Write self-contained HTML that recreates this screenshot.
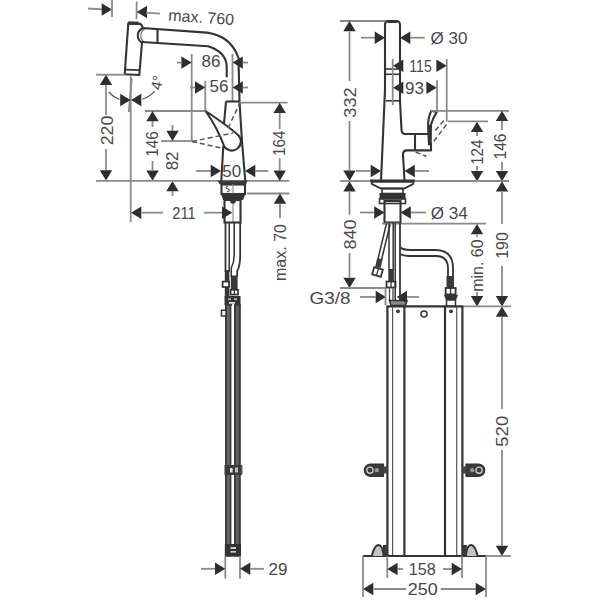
<!DOCTYPE html>
<html><head><meta charset="utf-8"><style>
html,body{margin:0;padding:0;background:#fff;width:600px;height:600px;overflow:hidden}
svg{display:block}
text{font-family:"Liberation Sans",sans-serif;fill:#484848}
</style></head><body>
<svg width="600" height="600" viewBox="0 0 600 600">
<rect width="600" height="600" fill="#fff"/>
<line x1="88" y1="8.5" x2="103" y2="9.3" stroke="#8a8a8a" stroke-width="1.8"/>
<polygon points="112,9.5 101.7,3.3 101.7,15.7" fill="#2e2e2e" stroke="none" stroke-width="0"/>
<line x1="112" y1="0" x2="112" y2="17" stroke="#8a8a8a" stroke-width="1.8"/>
<line x1="136.7" y1="1.5" x2="136.5" y2="19" stroke="#8a8a8a" stroke-width="1.8"/>
<polygon points="136.7,12 147.0,5.8 147.0,18.2" fill="#2e2e2e" stroke="none" stroke-width="0"/>
<line x1="146" y1="12.6" x2="160" y2="13.6" stroke="#8a8a8a" stroke-width="1.8"/>
<text x="168" y="20.5" font-size="16" text-anchor="start" transform="rotate(4 168 20.5)" >max. 760</text>
<path d="M142,42.5 L139.3,75 L124.7,74.3 L128.3,23.2 L138.5,23.6 Q142.6,24 142.5,28.5" stroke="#333" stroke-width="2.1" fill="none" stroke-linejoin="round" />
<line x1="128.4" y1="23" x2="138.6" y2="23.4" stroke="#333" stroke-width="3.4"/>
<line x1="125.1" y1="69.6" x2="139.6" y2="70.2" stroke="#333" stroke-width="1.8"/>
<path d="M142.5,28.5 C136.3,31 136.3,39.5 142,42.5" stroke="#333" stroke-width="2.0" fill="none" stroke-linejoin="round" />
<path d="M144.6,29.3 C139.6,32 139.6,39 144.2,41.8" stroke="#666" stroke-width="1.1" fill="none" stroke-linejoin="round" />
<path d="M142,28 L207,32.6 Q231,36 238.5,58 L239.5,101.5" stroke="#333" stroke-width="2.1" fill="none" stroke-linejoin="round" />
<path d="M141.5,42 L208,46.3 Q226,52 226.7,66 L226.7,77.2" stroke="#333" stroke-width="2.1" fill="none" stroke-linejoin="round" />
<line x1="157.5" y1="29" x2="157.5" y2="43" stroke="#333" stroke-width="2.1"/>
<line x1="191.7" y1="54" x2="191.7" y2="141" stroke="#8a8a8a" stroke-width="1.8"/>
<polygon points="191.7,62.6 181.39999999999998,56.4 181.39999999999998,68.8" fill="#2e2e2e" stroke="none" stroke-width="0"/>
<line x1="177" y1="62.6" x2="182" y2="62.6" stroke="#8a8a8a" stroke-width="1.8"/>
<line x1="232.5" y1="54" x2="232.5" y2="101.5" stroke="#8a8a8a" stroke-width="1.8"/>
<polygon points="232.5,62.6 242.8,56.4 242.8,68.8" fill="#2e2e2e" stroke="none" stroke-width="0"/>
<line x1="243" y1="62.6" x2="248" y2="62.6" stroke="#8a8a8a" stroke-width="1.8"/>
<text x="211" y="67.3" font-size="17" text-anchor="middle" >86</text>
<line x1="205.3" y1="81" x2="205.3" y2="111" stroke="#8a8a8a" stroke-width="1.8"/>
<polygon points="205.3,87.5 195.0,81.3 195.0,93.7" fill="#2e2e2e" stroke="none" stroke-width="0"/>
<line x1="190" y1="87.5" x2="195" y2="87.5" stroke="#8a8a8a" stroke-width="1.8"/>
<polygon points="232.5,87.5 242.8,81.3 242.8,93.7" fill="#2e2e2e" stroke="none" stroke-width="0"/>
<line x1="243" y1="87.5" x2="248" y2="87.5" stroke="#8a8a8a" stroke-width="1.8"/>
<text x="219" y="91.8" font-size="17" text-anchor="middle" >56</text>
<path d="M226,101.5 L239.5,101.5" stroke="#333" stroke-width="2.1" fill="none" stroke-linejoin="round" />
<path d="M226,101.5 L224,124" stroke="#333" stroke-width="2.1" fill="none" stroke-linejoin="round" />
<path d="M239.5,101.5 L242,141.7 L245.3,181" stroke="#333" stroke-width="2.1" fill="none" stroke-linejoin="round" />
<path d="M223.3,145.7 L221.3,181" stroke="#333" stroke-width="2.1" fill="none" stroke-linejoin="round" />
<line x1="239.5" y1="102.7" x2="287.6" y2="102.7" stroke="#8a8a8a" stroke-width="1.8"/>
<path d="M205.5,111 C216,118 231,128 239,136 A8.5,8.5 0 1 1 224.5,147 C220,135 212,120 205.5,111 Z" stroke="#333" stroke-width="2.1" fill="#fff" stroke-linejoin="round" />
<path d="M192,141.5 L233,133" stroke="#555" stroke-width="1.5" fill="none" stroke-linejoin="round" stroke-dasharray="5 3"/>
<path d="M192,141.5 L221,148" stroke="#555" stroke-width="1.5" fill="none" stroke-linejoin="round" stroke-dasharray="5 3"/>
<path d="M228,128 L240,103" stroke="#555" stroke-width="1.5" fill="none" stroke-linejoin="round" stroke-dasharray="5 3"/>
<line x1="96" y1="74.7" x2="125" y2="74.7" stroke="#8a8a8a" stroke-width="1.8"/>
<polygon points="106,74.7 99.8,85.0 112.2,85.0" fill="#2e2e2e" stroke="none" stroke-width="0"/>
<line x1="106" y1="85" x2="106" y2="115" stroke="#8a8a8a" stroke-width="1.8"/>
<text transform="translate(107 130.5) rotate(-90)" x="0" y="6.12" font-size="17" text-anchor="middle" textLength="29.5" lengthAdjust="spacingAndGlyphs" >220</text>
<line x1="106" y1="149" x2="106" y2="170" stroke="#8a8a8a" stroke-width="1.8"/>
<polygon points="106,180.5 99.8,170.2 112.2,170.2" fill="#2e2e2e" stroke="none" stroke-width="0"/>
<line x1="130.7" y1="75" x2="130.7" y2="222" stroke="#8a8a8a" stroke-width="1.8"/>
<line x1="131.8" y1="78" x2="128.8" y2="112" stroke="#8a8a8a" stroke-width="1.8"/>
<polygon points="130.5,100 120.2,93.8 120.2,106.2" fill="#2e2e2e" stroke="none" stroke-width="0"/>
<polygon points="131,100 141.3,93.8 141.3,106.2" fill="#2e2e2e" stroke="none" stroke-width="0"/>
<path d="M108.7,92 Q113,97 119.5,99.5" stroke="#555" stroke-width="1.2" fill="none" stroke-linejoin="round" />
<path d="M142.5,99 Q150,96.5 154.7,91.3" stroke="#555" stroke-width="1.2" fill="none" stroke-linejoin="round" />
<text x="162.2" y="83.8" font-size="15" text-anchor="middle" transform="rotate(-78 162.2 83.8)" >4°</text>
<line x1="145" y1="111" x2="205.3" y2="111" stroke="#8a8a8a" stroke-width="1.8"/>
<polygon points="152.5,111 146.3,121.3 158.7,121.3" fill="#2e2e2e" stroke="none" stroke-width="0"/>
<line x1="152.5" y1="121" x2="152.5" y2="127" stroke="#8a8a8a" stroke-width="1.8"/>
<text transform="translate(151.6 144) rotate(-90)" x="0" y="6.12" font-size="17" text-anchor="middle" textLength="25.5" lengthAdjust="spacingAndGlyphs" >146</text>
<line x1="152.5" y1="161" x2="152.5" y2="170" stroke="#8a8a8a" stroke-width="1.8"/>
<polygon points="152.5,180.8 146.3,170.5 158.7,170.5" fill="#2e2e2e" stroke="none" stroke-width="0"/>
<line x1="161" y1="141" x2="192" y2="141" stroke="#8a8a8a" stroke-width="1.8"/>
<line x1="172.5" y1="125" x2="172.5" y2="131" stroke="#8a8a8a" stroke-width="1.8"/>
<polygon points="172.5,141 166.3,130.7 178.7,130.7" fill="#2e2e2e" stroke="none" stroke-width="0"/>
<text transform="translate(172.2 160.9) rotate(-90)" x="0" y="6.12" font-size="17" text-anchor="middle" >82</text>
<polygon points="172.5,181 166.3,191.3 178.7,191.3" fill="#2e2e2e" stroke="none" stroke-width="0"/>
<line x1="172.5" y1="191" x2="172.5" y2="196" stroke="#8a8a8a" stroke-width="1.8"/>
<line x1="96" y1="180.8" x2="218" y2="180.8" stroke="#8a8a8a" stroke-width="1.8"/>
<line x1="247.5" y1="180.9" x2="289.4" y2="180.9" stroke="#8a8a8a" stroke-width="1.8"/>
<line x1="196" y1="171" x2="211" y2="171" stroke="#8a8a8a" stroke-width="1.8"/>
<polygon points="221,171 210.7,164.8 210.7,177.2" fill="#2e2e2e" stroke="none" stroke-width="0"/>
<polygon points="245,171 255.3,164.8 255.3,177.2" fill="#2e2e2e" stroke="none" stroke-width="0"/>
<line x1="255" y1="171" x2="268.3" y2="171" stroke="#8a8a8a" stroke-width="1.8"/>
<text x="231.7" y="177.3" font-size="17" text-anchor="middle" >50</text>
<polygon points="217.5,180.2 248,180.2 246,184.3 219.5,184.3" fill="#3a3a3a" stroke="none" stroke-width="0"/>
<rect x="221.5" y="184.5" width="23.5" height="9.5" rx="0" stroke="#333" stroke-width="2.1" fill="none"/>
<line x1="233" y1="184" x2="233" y2="222" stroke="#888" stroke-width="1.1"/>
<polygon points="221,193.5 245.5,193.5 243,200 223,200" fill="#333" stroke="none" stroke-width="0"/>
<circle cx="233" cy="201" r="2.8" fill="#333"/>
<rect x="224.5" y="200" width="16" height="22.5" rx="0" stroke="#333" stroke-width="2.1" fill="none"/>
<line x1="247" y1="193.5" x2="289.4" y2="193.5" stroke="#8a8a8a" stroke-width="1.8"/>
<path d="M228,186 Q224,188 228,189 Q231,190 227,192" stroke="#555" stroke-width="1.1" fill="none" stroke-linejoin="round" />
<polygon points="279.7,102.7 273.5,113.0 285.9,113.0" fill="#2e2e2e" stroke="none" stroke-width="0"/>
<line x1="279.7" y1="113" x2="279.7" y2="129" stroke="#8a8a8a" stroke-width="1.8"/>
<text transform="translate(278.75 143.3) rotate(-90)" x="0" y="6.12" font-size="17" text-anchor="middle" textLength="25.5" lengthAdjust="spacingAndGlyphs" >164</text>
<line x1="279.7" y1="158.3" x2="279.7" y2="170.5" stroke="#8a8a8a" stroke-width="1.8"/>
<polygon points="279.7,180.9 273.5,170.6 285.9,170.6" fill="#2e2e2e" stroke="none" stroke-width="0"/>
<polygon points="280,193.5 273.8,203.8 286.2,203.8" fill="#2e2e2e" stroke="none" stroke-width="0"/>
<line x1="280" y1="204" x2="280" y2="218" stroke="#8a8a8a" stroke-width="1.8"/>
<text transform="translate(280.3 252.5) rotate(-90)" x="0" y="5.76" font-size="16" text-anchor="middle" >max. 70</text>
<polygon points="131,212.7 141.3,206.5 141.3,218.89999999999998" fill="#2e2e2e" stroke="none" stroke-width="0"/>
<line x1="141.5" y1="212.7" x2="163" y2="212.7" stroke="#8a8a8a" stroke-width="1.8"/>
<text x="184" y="218.7" font-size="17" text-anchor="middle" textLength="23.5" lengthAdjust="spacingAndGlyphs" >211</text>
<line x1="204" y1="212.7" x2="222" y2="212.7" stroke="#8a8a8a" stroke-width="1.8"/>
<polygon points="232.3,212.7 222.0,206.5 222.0,218.89999999999998" fill="#2e2e2e" stroke="none" stroke-width="0"/>
<path d="M225.5,222.5 L225.5,272" stroke="#333" stroke-width="1.8" fill="none" stroke-linejoin="round" />
<path d="M229.2,222.5 L229.2,272" stroke="#333" stroke-width="1.5" fill="none" stroke-linejoin="round" />
<path d="M234.2,222.5 L234.2,255 Q234.2,262 231.3,268 L231.3,277" stroke="#333" stroke-width="1.5" fill="none" stroke-linejoin="round" />
<path d="M240.2,222.5 L240.2,255 Q240.2,266 237.2,271 L237.2,277" stroke="#333" stroke-width="1.8" fill="none" stroke-linejoin="round" />
<rect x="224.8" y="270" width="4.6" height="27" rx="0" stroke="none" stroke-width="0" fill="#383838"/>
<rect x="230.8" y="275.5" width="6.8" height="15" rx="0" stroke="none" stroke-width="0" fill="#383838"/>
<rect x="222.6" y="281.6" width="6.4" height="5.4" rx="0" stroke="#333" stroke-width="1.7" fill="#fff"/>
<rect x="230.6" y="289.8" width="7.4" height="4.8" rx="0" stroke="#333" stroke-width="1.7" fill="#fff"/>
<line x1="234.3" y1="289.8" x2="234.3" y2="294.6" stroke="#333" stroke-width="1.2"/>
<rect x="224.5" y="296" width="16" height="9.5" rx="0" stroke="none" stroke-width="0" fill="#333"/>
<rect x="228" y="298.2" width="3" height="2" rx="0" stroke="none" stroke-width="0" fill="#aaa"/>
<rect x="234" y="298.2" width="3" height="2" rx="0" stroke="none" stroke-width="0" fill="#aaa"/>
<rect x="229" y="302" width="6" height="1.8" rx="0" stroke="none" stroke-width="0" fill="#ddd"/>
<rect x="225" y="304" width="6.4" height="252.5" rx="0" stroke="none" stroke-width="0" fill="#3c3c3c"/>
<rect x="234" y="304" width="6.8" height="252.5" rx="0" stroke="none" stroke-width="0" fill="#3a3a3a"/>
<rect x="226.8" y="306" width="3.0" height="238" rx="0" stroke="none" stroke-width="0" fill="#666"/>
<rect x="235.9" y="306" width="3.0" height="238" rx="0" stroke="none" stroke-width="0" fill="#606060"/>
<rect x="221.5" y="310.2" width="4.5" height="5.8" rx="0" stroke="#333" stroke-width="1.5" fill="#fff"/>
<rect x="224.5" y="465" width="17.5" height="10" rx="0" stroke="none" stroke-width="0" fill="#3a3a3a"/>
<rect x="241" y="466" width="1.6" height="8" rx="0" stroke="none" stroke-width="0" fill="#666"/>
<rect x="224.8" y="544" width="16.2" height="12.6" rx="0" stroke="none" stroke-width="0" fill="#333"/>
<rect x="232.2" y="304" width="1.8" height="161" rx="0" stroke="none" stroke-width="0" fill="#fff"/>
<rect x="232.2" y="475" width="1.8" height="69" rx="0" stroke="none" stroke-width="0" fill="#fff"/>
<rect x="230" y="468" width="2.6" height="4.5" rx="0" stroke="none" stroke-width="0" fill="#ddd"/>
<rect x="235" y="467.5" width="3" height="5" rx="0" stroke="none" stroke-width="0" fill="#bbb"/>
<rect x="230.5" y="547" width="5.5" height="2" rx="0" stroke="none" stroke-width="0" fill="#ccc"/>
<rect x="230.5" y="551" width="5.5" height="1.6" rx="0" stroke="none" stroke-width="0" fill="#ccc"/>
<line x1="225.3" y1="556" x2="225.3" y2="578.7" stroke="#8a8a8a" stroke-width="1.8"/>
<line x1="240" y1="556" x2="240" y2="578.7" stroke="#8a8a8a" stroke-width="1.8"/>
<line x1="201" y1="568.8" x2="215" y2="568.8" stroke="#8a8a8a" stroke-width="1.8"/>
<polygon points="225.3,568.8 215.0,562.5999999999999 215.0,575.0" fill="#2e2e2e" stroke="none" stroke-width="0"/>
<polygon points="240,568.8 250.3,562.5999999999999 250.3,575.0" fill="#2e2e2e" stroke="none" stroke-width="0"/>
<line x1="250.5" y1="568.8" x2="264" y2="568.8" stroke="#8a8a8a" stroke-width="1.8"/>
<text x="278" y="574.5" font-size="17" text-anchor="middle" >29</text>
<line x1="340" y1="21" x2="389" y2="21" stroke="#8a8a8a" stroke-width="1.8"/>
<polygon points="349.5,21 343.3,31.3 355.7,31.3" fill="#2e2e2e" stroke="none" stroke-width="0"/>
<line x1="349.5" y1="31.5" x2="349.5" y2="81" stroke="#8a8a8a" stroke-width="1.8"/>
<text transform="translate(350 102.5) rotate(-90)" x="0" y="6.12" font-size="17" text-anchor="middle" textLength="30.5" lengthAdjust="spacingAndGlyphs" >332</text>
<line x1="349.5" y1="121" x2="349.5" y2="170.5" stroke="#8a8a8a" stroke-width="1.8"/>
<polygon points="349.5,180.9 343.3,170.6 355.7,170.6" fill="#2e2e2e" stroke="none" stroke-width="0"/>
<path d="M385,90 L385,25 Q385,21 389,21 L396,21 Q400,21 400,25 L400,101" stroke="#333" stroke-width="2.1" fill="none" stroke-linejoin="round" />
<line x1="388" y1="21.5" x2="397" y2="21.5" stroke="#333" stroke-width="3"/>
<path d="M385,90 L381,181" stroke="#333" stroke-width="2.1" fill="none" stroke-linejoin="round" />
<line x1="385" y1="69" x2="400" y2="69" stroke="#333" stroke-width="1.6"/>
<line x1="385" y1="74.3" x2="400" y2="74.3" stroke="#333" stroke-width="1.6"/>
<line x1="386" y1="100.8" x2="399.5" y2="100.8" stroke="#333" stroke-width="1.6"/>
<line x1="361" y1="37.7" x2="375" y2="37.7" stroke="#8a8a8a" stroke-width="1.8"/>
<polygon points="385,37.7 374.7,31.500000000000004 374.7,43.900000000000006" fill="#2e2e2e" stroke="none" stroke-width="0"/>
<polygon points="400,37.7 410.3,31.500000000000004 410.3,43.900000000000006" fill="#2e2e2e" stroke="none" stroke-width="0"/>
<line x1="410" y1="37.7" x2="424.7" y2="37.7" stroke="#8a8a8a" stroke-width="1.8"/>
<text x="449" y="43.5" font-size="17" text-anchor="middle" >Ø 30</text>
<line x1="392.7" y1="59" x2="392.7" y2="105" stroke="#8a8a8a" stroke-width="1.8"/>
<line x1="446.7" y1="59" x2="446.7" y2="121.7" stroke="#8a8a8a" stroke-width="1.8"/>
<line x1="437" y1="80.3" x2="437" y2="110.8" stroke="#8a8a8a" stroke-width="1.8"/>
<polygon points="393,65.7 403.3,59.5 403.3,71.9" fill="#2e2e2e" stroke="none" stroke-width="0"/>
<text x="420.5" y="72" font-size="17" text-anchor="middle" textLength="22.5" lengthAdjust="spacingAndGlyphs" >115</text>
<polygon points="446.7,65.7 436.4,59.5 436.4,71.9" fill="#2e2e2e" stroke="none" stroke-width="0"/>
<polygon points="393,87.7 403.3,81.5 403.3,93.9" fill="#2e2e2e" stroke="none" stroke-width="0"/>
<text x="414.5" y="93.5" font-size="17" text-anchor="middle" >93</text>
<polygon points="436.7,87.7 426.4,81.5 426.4,93.9" fill="#2e2e2e" stroke="none" stroke-width="0"/>
<path d="M400,101 L401.5,130 Q401.7,134 405.5,134 L428,134" stroke="#333" stroke-width="2.1" fill="none" stroke-linejoin="round" />
<path d="M415,134 L415,150.4" stroke="#333" stroke-width="2.1" fill="none" stroke-linejoin="round" />
<path d="M407,150.4 L431,150.4 L431,143" stroke="#333" stroke-width="2.1" fill="none" stroke-linejoin="round" />
<path d="M407,150.4 Q403,150.4 403,154.5 L404.5,181" stroke="#333" stroke-width="2.1" fill="none" stroke-linejoin="round" />
<path d="M431.3,110.8 L436.7,112 Q433,118 430.9,125 L430.7,143.5 L429,144.4 L428.2,128 Q427.6,118 431.3,110.8 Z" stroke="#333" stroke-width="2.1" fill="#fff" stroke-linejoin="round" />
<line x1="429.3" y1="125" x2="429.5" y2="144" stroke="#333" stroke-width="2.8"/>
<path d="M443.75,120.6 L433.5,132.5" stroke="#555" stroke-width="1.5" fill="none" stroke-linejoin="round" stroke-dasharray="5 3"/>
<path d="M446.5,124.5 L432.4,143.3" stroke="#555" stroke-width="1.5" fill="none" stroke-linejoin="round" stroke-dasharray="5 3"/>
<path d="M415.6,152 L426.4,156.3" stroke="#555" stroke-width="1.5" fill="none" stroke-linejoin="round" stroke-dasharray="5 3"/>
<line x1="431" y1="110.8" x2="509" y2="110.8" stroke="#8a8a8a" stroke-width="1.8"/>
<line x1="448" y1="121.3" x2="488" y2="121.3" stroke="#8a8a8a" stroke-width="1.8"/>
<line x1="356" y1="171" x2="370.5" y2="171" stroke="#8a8a8a" stroke-width="1.8"/>
<polygon points="381,171 370.7,164.8 370.7,177.2" fill="#2e2e2e" stroke="none" stroke-width="0"/>
<polygon points="404.5,171 414.8,164.8 414.8,177.2" fill="#2e2e2e" stroke="none" stroke-width="0"/>
<line x1="415" y1="171" x2="429" y2="171" stroke="#8a8a8a" stroke-width="1.8"/>
<polygon points="477,121.7 470.8,132.0 483.2,132.0" fill="#2e2e2e" stroke="none" stroke-width="0"/>
<line x1="477" y1="132" x2="477" y2="136" stroke="#8a8a8a" stroke-width="1.8"/>
<text transform="translate(477.25 152.25) rotate(-90)" x="0" y="6.12" font-size="17" text-anchor="middle" textLength="25" lengthAdjust="spacingAndGlyphs" >124</text>
<line x1="477" y1="166" x2="477" y2="170.5" stroke="#8a8a8a" stroke-width="1.8"/>
<polygon points="477,181.3 470.8,171.0 483.2,171.0" fill="#2e2e2e" stroke="none" stroke-width="0"/>
<polygon points="502,110.8 495.8,121.1 508.2,121.1" fill="#2e2e2e" stroke="none" stroke-width="0"/>
<line x1="502" y1="121" x2="502" y2="130" stroke="#8a8a8a" stroke-width="1.8"/>
<text transform="translate(500 146.5) rotate(-90)" x="0" y="6.12" font-size="17" text-anchor="middle" textLength="26" lengthAdjust="spacingAndGlyphs" >146</text>
<line x1="502" y1="162" x2="502" y2="170.5" stroke="#8a8a8a" stroke-width="1.8"/>
<polygon points="502,181.3 495.8,171.0 508.2,171.0" fill="#2e2e2e" stroke="none" stroke-width="0"/>
<line x1="340" y1="181" x2="371" y2="181" stroke="#8a8a8a" stroke-width="1.8"/>
<line x1="414" y1="181" x2="509" y2="181" stroke="#8a8a8a" stroke-width="1.8"/>
<polygon points="371,180.5 414,180.5 413,184 404,188.5 381,188.5 372,184" fill="none" stroke="#333" stroke-width="1.8"/>
<line x1="371" y1="181.5" x2="414" y2="181.5" stroke="#333" stroke-width="2.6"/>
<rect x="382" y="188.5" width="21" height="5" rx="0" stroke="#333" stroke-width="1.6" fill="none"/>
<polygon points="379.5,193 405.5,193 405.5,199 379.5,199" fill="#333" stroke="none" stroke-width="0"/>
<rect x="379.5" y="199" width="26" height="4.5" rx="0" stroke="#333" stroke-width="1.6" fill="none"/>
<rect x="384.5" y="201" width="16" height="21.5" rx="0" stroke="#333" stroke-width="2.1" fill="none"/>
<polygon points="349.5,181.3 343.3,191.60000000000002 355.7,191.60000000000002" fill="#2e2e2e" stroke="none" stroke-width="0"/>
<line x1="349.5" y1="192" x2="349.5" y2="214.6" stroke="#8a8a8a" stroke-width="1.8"/>
<text transform="translate(349.8 234.4) rotate(-90)" x="0" y="6.12" font-size="17" text-anchor="middle" textLength="30" lengthAdjust="spacingAndGlyphs" >840</text>
<line x1="349.5" y1="253" x2="349.5" y2="277.5" stroke="#8a8a8a" stroke-width="1.8"/>
<polygon points="349.5,288 343.3,277.7 355.7,277.7" fill="#2e2e2e" stroke="none" stroke-width="0"/>
<line x1="340" y1="288" x2="385.5" y2="288" stroke="#8a8a8a" stroke-width="1.8"/>
<line x1="360" y1="212.5" x2="374" y2="212.5" stroke="#8a8a8a" stroke-width="1.8"/>
<polygon points="384.5,212.5 374.2,206.3 374.2,218.7" fill="#2e2e2e" stroke="none" stroke-width="0"/>
<polygon points="400.5,212.5 410.8,206.3 410.8,218.7" fill="#2e2e2e" stroke="none" stroke-width="0"/>
<line x1="411" y1="212.5" x2="426" y2="212.5" stroke="#8a8a8a" stroke-width="1.8"/>
<text x="449.25" y="219" font-size="17" text-anchor="middle" >Ø 34</text>
<line x1="382" y1="223.6" x2="486" y2="223.6" stroke="#8a8a8a" stroke-width="1.8"/>
<polygon points="477,224 470.8,234.3 483.2,234.3" fill="#2e2e2e" stroke="none" stroke-width="0"/>
<line x1="477" y1="234.5" x2="477" y2="237" stroke="#8a8a8a" stroke-width="1.8"/>
<text transform="translate(477.3 265.6) rotate(-90)" x="0" y="5.76" font-size="16" text-anchor="middle" >min. 60</text>
<line x1="477" y1="292" x2="477" y2="296" stroke="#8a8a8a" stroke-width="1.8"/>
<polygon points="477,306.4 470.8,296.09999999999997 483.2,296.09999999999997" fill="#2e2e2e" stroke="none" stroke-width="0"/>
<polygon points="502,181.3 495.8,191.60000000000002 508.2,191.60000000000002" fill="#2e2e2e" stroke="none" stroke-width="0"/>
<line x1="502" y1="191.8" x2="502" y2="224" stroke="#8a8a8a" stroke-width="1.8"/>
<text transform="translate(501.8 245.5) rotate(-90)" x="0" y="6.12" font-size="17" text-anchor="middle" textLength="26.5" lengthAdjust="spacingAndGlyphs" >190</text>
<line x1="502" y1="266" x2="502" y2="296" stroke="#8a8a8a" stroke-width="1.8"/>
<polygon points="502,306.4 495.8,296.09999999999997 508.2,296.09999999999997" fill="#2e2e2e" stroke="none" stroke-width="0"/>
<polygon points="502,306.4 495.8,316.7 508.2,316.7" fill="#2e2e2e" stroke="none" stroke-width="0"/>
<line x1="502" y1="317" x2="502" y2="409" stroke="#8a8a8a" stroke-width="1.8"/>
<text transform="translate(501.75 431.25) rotate(-90)" x="0" y="6.12" font-size="17" text-anchor="middle" textLength="31" lengthAdjust="spacingAndGlyphs" >520</text>
<line x1="502" y1="450" x2="502" y2="545.5" stroke="#8a8a8a" stroke-width="1.8"/>
<polygon points="502,556 495.8,545.7 508.2,545.7" fill="#2e2e2e" stroke="none" stroke-width="0"/>
<line x1="463" y1="306.4" x2="511" y2="306.4" stroke="#8a8a8a" stroke-width="1.8"/>
<text x="330" y="304" font-size="17" text-anchor="middle" textLength="41" lengthAdjust="spacingAndGlyphs" >G3/8</text>
<line x1="360" y1="297" x2="375.7" y2="297" stroke="#8a8a8a" stroke-width="1.8"/>
<polygon points="386,297 375.7,290.8 375.7,303.2" fill="#2e2e2e" stroke="none" stroke-width="0"/>
<line x1="385.5" y1="288" x2="385.5" y2="305" stroke="#8a8a8a" stroke-width="1.8"/>
<line x1="405.7" y1="297" x2="419" y2="297" stroke="#8a8a8a" stroke-width="1.8"/>
<path d="M386.5,223.5 L378,259" stroke="#333" stroke-width="1.5" fill="none" stroke-linejoin="round" />
<path d="M390,224.5 L381.5,260" stroke="#333" stroke-width="1.5" fill="none" stroke-linejoin="round" />
<polygon points="377.2,258 382.6,259.5 380.6,268 375.2,266.5" fill="#3a3a3a" stroke="none" stroke-width="0"/>
<g transform="rotate(16 377.5 272)">
<rect x="373" y="268.3" width="9" height="7.4" rx="0" stroke="#333" stroke-width="1.8" fill="#fff"/>
<line x1="377.5" y1="268.3" x2="377.5" y2="275.7" stroke="#333" stroke-width="1.3"/>
</g>
<path d="M389,223 L389,270" stroke="#333" stroke-width="1.5" fill="none" stroke-linejoin="round" />
<path d="M393.2,223 L393.2,270" stroke="#333" stroke-width="1.5" fill="none" stroke-linejoin="round" />
<rect x="388.3" y="269" width="5.6" height="12.5" rx="0" stroke="none" stroke-width="0" fill="#3a3a3a"/>
<rect x="386.5" y="281.5" width="9" height="6" rx="0" stroke="#333" stroke-width="1.8" fill="#fff"/>
<line x1="391" y1="281.5" x2="391" y2="287.5" stroke="#333" stroke-width="1.3"/>
<line x1="389.5" y1="287.5" x2="389.5" y2="300.5" stroke="#555" stroke-width="1.4"/>
<line x1="393" y1="287.5" x2="393" y2="300.5" stroke="#555" stroke-width="1.4"/>
<path d="M395.2,223 L395.2,300" stroke="#333" stroke-width="1.5" fill="none" stroke-linejoin="round" />
<path d="M400,223 L400,300" stroke="#333" stroke-width="1.8" fill="none" stroke-linejoin="round" />
<path d="M400,247 Q403,250 410,250 L435,250 Q453,250 453,268 L453,276" stroke="#333" stroke-width="1.8" fill="none" stroke-linejoin="round" />
<path d="M400,253.75 Q403,256 410,256 L436,256 Q448,256 448,268.75 L448,276" stroke="#333" stroke-width="1.8" fill="none" stroke-linejoin="round" />
<rect x="446.5" y="276" width="7.5" height="12.5" rx="0" stroke="none" stroke-width="0" fill="#3a3a3a"/>
<rect x="445.6" y="288" width="10" height="6.4" rx="0" stroke="#333" stroke-width="1.8" fill="#fff"/>
<line x1="450.6" y1="288" x2="450.6" y2="294.4" stroke="#333" stroke-width="1.4"/>
<polygon points="444,295 458,295 456,300 446,300" fill="#333" stroke="none" stroke-width="0"/>
<rect x="446.5" y="300" width="9" height="6.4" rx="0" stroke="#333" stroke-width="1.5" fill="#fff"/>
<polygon points="389.5,300.5 407,300.5 405.5,305.5 391,305.5" fill="#8a8a8a" stroke="#333" stroke-width="1.5"/>
<polygon points="396.7,297 407.0,290.8 407.0,303.2" fill="#2e2e2e" stroke="none" stroke-width="0"/>
<line x1="386.5" y1="306.4" x2="463.2" y2="306.4" stroke="#333" stroke-width="2.2"/>
<line x1="387.4" y1="306.4" x2="387.4" y2="556" stroke="#333" stroke-width="2.2"/>
<line x1="404.4" y1="306.4" x2="404.4" y2="556" stroke="#333" stroke-width="2.2"/>
<line x1="445" y1="306.4" x2="445" y2="556" stroke="#333" stroke-width="2.2"/>
<line x1="462.4" y1="306.4" x2="462.4" y2="556" stroke="#333" stroke-width="2.2"/>
<line x1="392.6" y1="306.4" x2="392.6" y2="556" stroke="#555" stroke-width="1.2"/>
<line x1="456.7" y1="306.4" x2="456.7" y2="556" stroke="#555" stroke-width="1.2"/>
<circle cx="398" cy="311.3" r="1.9" fill="#333"/>
<circle cx="451" cy="311.3" r="1.9" fill="#333"/>
<circle cx="424" cy="314" r="3" fill="none" stroke="#333" stroke-width="1.5"/>
<line x1="363" y1="556" x2="486" y2="556" stroke="#333" stroke-width="2.2"/>
<line x1="486" y1="556" x2="511" y2="556" stroke="#8a8a8a" stroke-width="1.8"/>
<path d="M383.5,464 L370.45,464 A6.15,6.15 0 0 0 370.45,476.3 L383.5,476.3 Z" stroke="#333" stroke-width="1.2" fill="#3c3c3c" stroke-linejoin="round" />
<circle cx="369.95" cy="470.15" r="3.1" fill="none" stroke="#c8c8c8" stroke-width="1.3"/>
<circle cx="376.8" cy="470.15" r="2.1" fill="#9a9a9a"/>
<rect x="383" y="466.5" width="4.5" height="7" rx="0" stroke="none" stroke-width="0" fill="#444"/>
<path d="M466,464 L478.55,464 A6.15,6.15 0 0 1 478.55,476.3 L466,476.3 Z" stroke="#333" stroke-width="1.2" fill="#3c3c3c" stroke-linejoin="round" />
<circle cx="479.05" cy="470.15" r="3.1" fill="none" stroke="#c8c8c8" stroke-width="1.3"/>
<circle cx="472.2" cy="470.15" r="2.1" fill="#9a9a9a"/>
<rect x="462.4" y="466.5" width="4" height="7" rx="0" stroke="none" stroke-width="0" fill="#444"/>
<path d="M371.8,556 C373.5,549 375.5,545 378.5,545 C381.5,545 383,548 383.5,556" stroke="#333" stroke-width="2" fill="#c4c4c4" stroke-linejoin="round" />
<rect x="383" y="545" width="4.4" height="11" rx="0" stroke="none" stroke-width="0" fill="#3a3a3a"/>
<path d="M477.6,556 C476,549 474,545 471,545 C468,545 466.5,548 466,556" stroke="#333" stroke-width="2" fill="#c4c4c4" stroke-linejoin="round" />
<rect x="462.4" y="545" width="4.4" height="11" rx="0" stroke="none" stroke-width="0" fill="#3a3a3a"/>
<line x1="363" y1="556" x2="363" y2="597" stroke="#8a8a8a" stroke-width="1.8"/>
<line x1="486" y1="556" x2="486" y2="597" stroke="#8a8a8a" stroke-width="1.8"/>
<line x1="387.3" y1="556" x2="387.3" y2="578" stroke="#8a8a8a" stroke-width="1.8"/>
<line x1="462" y1="556" x2="462" y2="578" stroke="#8a8a8a" stroke-width="1.8"/>
<polygon points="387.3,569 397.6,562.8 397.6,575.2" fill="#2e2e2e" stroke="none" stroke-width="0"/>
<line x1="397.5" y1="569" x2="403" y2="569" stroke="#8a8a8a" stroke-width="1.8"/>
<text x="422.25" y="574.5" font-size="17" text-anchor="middle" textLength="27" lengthAdjust="spacingAndGlyphs" >158</text>
<line x1="443" y1="569" x2="451.7" y2="569" stroke="#8a8a8a" stroke-width="1.8"/>
<polygon points="462,569 451.7,562.8 451.7,575.2" fill="#2e2e2e" stroke="none" stroke-width="0"/>
<polygon points="363,589 373.3,582.8 373.3,595.2" fill="#2e2e2e" stroke="none" stroke-width="0"/>
<line x1="373.5" y1="589" x2="406" y2="589" stroke="#8a8a8a" stroke-width="1.8"/>
<text x="422.75" y="595" font-size="17" text-anchor="middle" textLength="30" lengthAdjust="spacingAndGlyphs" >250</text>
<line x1="440.7" y1="589" x2="475.5" y2="589" stroke="#8a8a8a" stroke-width="1.8"/>
<polygon points="486,589 475.7,582.8 475.7,595.2" fill="#2e2e2e" stroke="none" stroke-width="0"/>
</svg>
</body></html>
